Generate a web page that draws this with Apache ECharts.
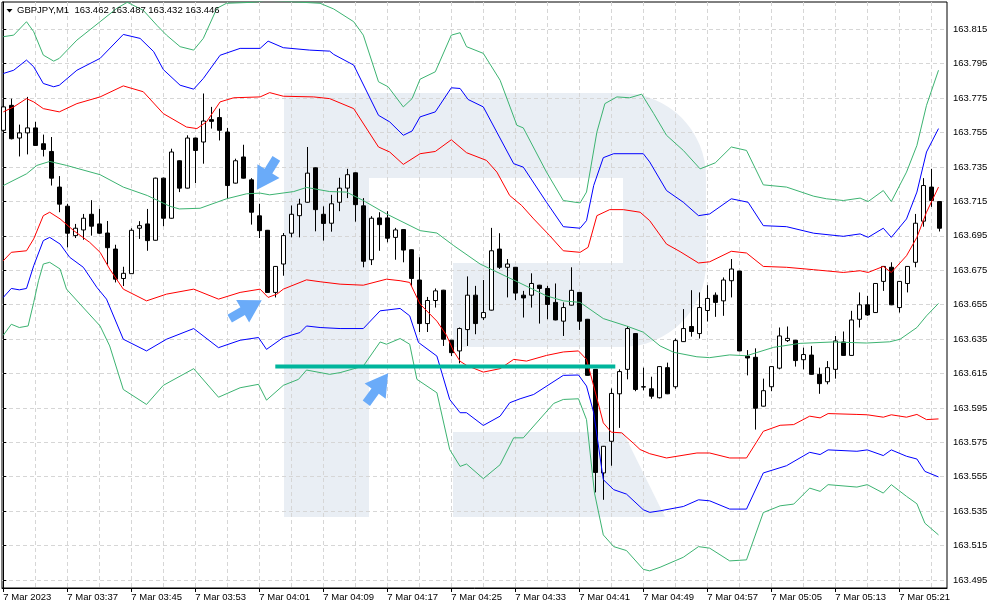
<!DOCTYPE html>
<html>
<head>
<meta charset="utf-8">
<title>GBPJPY,M1</title>
<script src="https://cdn.jsdelivr.net/npm/echarts@6.0.0/dist/echarts.min.js"></script>
<style>
  html, body { margin: 0; padding: 0; background: #fff; }
  #chart { width: 993px; height: 610px; }
</style>
</head>
<body>
<div id="chart"></div>
<script>
// one bar per minute, bar 0 = 7 Mar 03:29
const opens = [
  163.7563, 163.7708, 163.7518, 163.7548, 163.7577, 163.7485, 163.7440, 163.7233, 163.7122, 163.6951,
  163.6984, 163.7075, 163.7019, 163.6966, 163.6873, 163.6702, 163.6730, 163.6994, 163.7019, 163.6924,
  163.7285, 163.7052, 163.7386, 163.7227, 163.7518, 163.7495, 163.7625, 163.7637, 163.7553, 163.7256,
  163.7408, 163.7275, 163.7066, 163.6982, 163.6621, 163.6786, 163.6965, 163.7067, 163.7145, 163.7345,
  163.7075, 163.7023, 163.7145, 163.7227, 163.7316, 163.7124, 163.6811, 163.7054, 163.7054, 163.6941,
  163.6986, 163.6869, 163.6693, 163.6440, 163.6574, 163.6634, 163.6343, 163.6281, 163.6405, 163.6605,
  163.6474, 163.6518, 163.6873, 163.6767, 163.6767, 163.6605, 163.6605, 163.6663, 163.6644, 163.6563,
  163.6454, 163.6547, 163.6621, 163.6465, 163.6174, 163.5572, 163.5756, 163.6032, 163.6174, 163.6382,
  163.6073, 163.6061, 163.6009, 163.6184, 163.6073, 163.6335, 163.6423, 163.6382, 163.6516, 163.6605,
  163.6572, 163.6689, 163.6745, 163.6251, 163.6244, 163.5960, 163.6073, 163.6181, 163.6341, 163.6343,
  163.6230, 163.6257, 163.6145, 163.6102, 163.6174, 163.6333, 163.6255, 163.6465, 163.6549, 163.6504,
  163.6685, 163.6767, 163.6533, 163.6673, 163.6796, 163.7035, 163.7233, 163.7149
]
const highs = [
  163.7728, 163.7747, 163.7596, 163.7757, 163.7612, 163.7538, 163.7524, 163.7297, 163.7136, 163.7019,
  163.7077, 163.7157, 163.7106, 163.7036, 163.6898, 163.6770, 163.6994, 163.7035, 163.7106, 163.7288,
  163.7288, 163.7456, 163.7388, 163.7534, 163.7520, 163.7777, 163.7699, 163.7689, 163.7577, 163.7398,
  163.7479, 163.7285, 163.7136, 163.6984, 163.6774, 163.6966, 163.7126, 163.7165, 163.7466, 163.7347,
  163.7121, 163.7188, 163.7287, 163.7339, 163.7318, 163.7169, 163.7064, 163.7087, 163.7093, 163.6996,
  163.6988, 163.6871, 163.6825, 163.6595, 163.6644, 163.6636, 163.6345, 163.6417, 163.6714, 163.6659,
  163.6693, 163.6996, 163.6965, 163.6815, 163.6769, 163.6630, 163.6732, 163.6665, 163.6659, 163.6673,
  163.6563, 163.6767, 163.6623, 163.6467, 163.6176, 163.5729, 163.6063, 163.6174, 163.6426, 163.6384,
  163.6184, 163.6131, 163.6192, 163.6213, 163.6353, 163.6524, 163.6634, 163.6621, 163.6663, 163.6621,
  163.6708, 163.6815, 163.6747, 163.6286, 163.6296, 163.6120, 163.6192, 163.6417, 163.6423, 163.6345,
  163.6300, 163.6310, 163.6184, 163.6222, 163.6368, 163.6394, 163.6514, 163.6621, 163.6601, 163.6675,
  163.6774, 163.6796, 163.6687, 163.6774, 163.7077, 163.7285, 163.7339, 163.7151
]
const lows = [
  163.7556, 163.7510, 163.7411, 163.7423, 163.7472, 163.7411, 163.7242, 163.7087, 163.6883, 163.6937,
  163.6927, 163.6951, 163.6961, 163.6782, 163.6679, 163.6658, 163.6730, 163.6932, 163.6863, 163.6922,
  163.7006, 163.7050, 163.7204, 163.7225, 163.7256, 163.7369, 163.7573, 163.7504, 163.7165, 163.7254,
  163.7283, 163.7015, 163.6937, 163.6619, 163.6592, 163.6718, 163.6941, 163.6941, 163.7143, 163.6976,
  163.6922, 163.6974, 163.7093, 163.7169, 163.7032, 163.6767, 163.6780, 163.6863, 163.6912, 163.6811,
  163.6796, 163.6659, 163.6391, 163.6391, 163.6533, 163.6310, 163.6251, 163.6209, 163.6310, 163.6378,
  163.6461, 163.6516, 163.6757, 163.6592, 163.6576, 163.6475, 163.6533, 163.6440, 163.6465, 163.6459,
  163.6368, 163.6545, 163.6403, 163.6137, 163.5459, 163.5416, 163.5614, 163.5834, 163.6116, 163.6047,
  163.6052, 163.6003, 163.6005, 163.6030, 163.6061, 163.6333, 163.6364, 163.6353, 163.6452, 163.6479,
  163.6485, 163.6592, 163.6279, 163.6139, 163.5824, 163.5958, 163.6047, 163.6174, 163.6333, 163.6190,
  163.6174, 163.6143, 163.6032, 163.6087, 163.6120, 163.6253, 163.6253, 163.6417, 163.6485, 163.6502,
  163.6630, 163.6547, 163.6504, 163.6621, 163.6767, 163.7003, 163.7118, 163.6975
]
const closes = [
  163.7699, 163.7514, 163.7548, 163.7577, 163.7475, 163.7452, 163.7285, 163.7134, 163.6965, 163.6994,
  163.7052, 163.7006, 163.6965, 163.6881, 163.6698, 163.6732, 163.6982, 163.7009, 163.6922, 163.7285,
  163.7052, 163.7437, 163.7227, 163.7518, 163.7446, 163.7617, 163.7615, 163.7563, 163.7242, 163.7386,
  163.7285, 163.7087, 163.6980, 163.6621, 163.6772, 163.6951, 163.7075, 163.7134, 163.7314, 163.7102,
  163.7022, 163.7136, 163.7227, 163.7305, 163.7131, 163.6802, 163.7052, 163.7015, 163.6936, 163.6984,
  163.6867, 163.6702, 163.6440, 163.6574, 163.6630, 163.6349, 163.6271, 163.6411, 163.6605, 163.6440,
  163.6504, 163.6863, 163.6767, 163.6786, 163.6617, 163.6589, 163.6673, 163.6644, 163.6551, 163.6461,
  163.6533, 163.6633, 163.6454, 163.6139, 163.5575, 163.5727, 163.6034, 163.6161, 163.6411, 163.6057,
  163.6071, 163.6018, 163.6190, 163.6032, 163.6341, 163.6411, 163.6394, 163.6533, 163.6586, 163.6563,
  163.6693, 163.6757, 163.6281, 163.6240, 163.5948, 163.6050, 163.6190, 163.6368, 163.6354, 163.6225,
  163.6260, 163.6145, 163.6091, 163.6184, 163.6339, 163.6255, 163.6461, 163.6549, 163.6490, 163.6673,
  163.6772, 163.6549, 163.6685, 163.6772, 163.7023, 163.7242, 163.7155, 163.6994
]

const tickBars = [0, 8, 16, 24, 32, 40, 48, 56, 64, 72, 80, 88, 96, 104, 112]
const tickLabels = [
  '7 Mar 2023', '7 Mar 03:37', '7 Mar 03:45', '7 Mar 03:53', '7 Mar 04:01', '7 Mar 04:09', '7 Mar 04:17',
  '7 Mar 04:25', '7 Mar 04:33', '7 Mar 04:41', '7 Mar 04:49', '7 Mar 04:57', '7 Mar 05:05', '7 Mar 05:13', '7 Mar 05:21'
]
const priceTicks = [
  163.495, 163.515, 163.535, 163.555, 163.575, 163.595, 163.615, 163.635, 163.655,
  163.675, 163.695, 163.715, 163.735, 163.755, 163.775, 163.795, 163.815
]

// indicator lines: [bar, price]
const maLine = [[0,163.7242],[2.9,163.7310],[4.2,163.7359],[5.8,163.7382],[7.9,163.7359],[12.1,163.7305],[15,163.7233],[18,163.7184],[20.8,163.7122],[22,163.7106],[24.6,163.7110],[27.9,163.7165],[30.4,163.7194],[32.1,163.7198],[33.3,163.7188],[36.3,163.7207],[37.9,163.7231],[40.8,163.7207],[42.9,163.7204],[45,163.7155],[47.9,163.7077],[52.1,163.6980],[54.2,163.6966],[56.3,163.6893],[59.6,163.6786],[63.8,163.6693],[67.9,163.6601],[70,163.6572],[72.1,163.6563],[75,163.6469],[77.9,163.6426],[80,163.6390],[82.1,163.6310],[83.8,163.6273],[86.7,163.6247],[88.3,163.6242],[90.8,163.6258],[92.9,163.6253],[96.3,163.6302],[99.6,163.6325],[103.7,163.6333],[107.9,163.6327],[110.8,163.6334],[112.1,163.6349],[114.2,163.6417],[115.4,163.6485],[116.9,163.6557]]
const upper1 = [[0,163.7670],[1.3,163.7699],[2.9,163.7747],[3.8,163.7728],[5,163.7689],[7,163.7670],[9.2,163.7718],[12.1,163.7757],[15,163.7821],[17.5,163.7787],[20,163.7660],[22.9,163.7582],[24.2,163.7573],[25.4,163.7612],[27.1,163.7728],[28.8,163.7752],[32.1,163.7757],[33.3,163.7782],[35,163.7761],[38.8,163.7757],[40.8,163.7747],[43.8,163.7689],[46.9,163.7466],[48.3,163.7437],[50,163.7365],[52.1,163.7427],[54,163.7440],[56,163.7508],[57.9,163.7433],[60.4,163.7388],[61.7,163.7320],[63.3,163.7184],[64.8,163.7126],[66.3,163.7048],[68.3,163.6951],[70,163.6863],[72.1,163.6854],[73.1,163.6883],[74.2,163.7067],[75.8,163.7102],[77.5,163.7102],[79.6,163.7087],[80.8,163.7038],[82.9,163.6902],[84.6,163.6858],[86.9,163.6792],[88.3,163.6799],[91,163.6860],[92.9,163.6850],[95,163.6772],[97.9,163.6767],[101.3,163.6753],[105,163.6737],[107.1,163.6747],[108.1,163.6737],[110,163.6772],[111,163.6737],[112.9,163.6834],[114.2,163.6941],[115.4,163.7087],[116.9,163.7233]]
const upper2 = [[0,163.7893],[1.3,163.7912],[2.9,163.7971],[3.8,163.7932],[5,163.7835],[6.3,163.7816],[7,163.7825],[9.2,163.7912],[12.1,163.7981],[15,163.8120],[17.1,163.8097],[18.8,163.8020],[20,163.7916],[22.1,163.7825],[23.8,163.7802],[25,163.7864],[27.1,163.7999],[29.6,163.8039],[32.1,163.8039],[33.1,163.8081],[35,163.8043],[38.3,163.8029],[40.8,163.8023],[41.3,163.8004],[43.8,163.7942],[46.9,163.7650],[48.3,163.7612],[50,163.7534],[51.1,163.7559],[52.1,163.7641],[54,163.7670],[56,163.7810],[57.1,163.7806],[58.1,163.7742],[60,163.7699],[63.8,163.7369],[65,163.7349],[67.9,163.7145],[70,163.7003],[72.1,163.6994],[72.9,163.7038],[73.8,163.7242],[75,163.7404],[76.3,163.7427],[80,163.7427],[80.8,163.7379],[82.9,163.7213],[85,163.7145],[86.9,163.7067],[88.3,163.7077],[91,163.7165],[93.1,163.7145],[95,163.7009],[97.9,163.7003],[101.3,163.6965],[105,163.6947],[107.1,163.6961],[108.1,163.6941],[110,163.6994],[111,163.6941],[112.9,163.7048],[114.2,163.7204],[115.4,163.7437],[116.9,163.7573]]
const upper3 = [[0,163.8107],[1.3,163.8116],[2.9,163.8194],[3.8,163.8136],[5,163.8000],[6.3,163.7965],[7,163.7981],[9.2,163.8087],[12.1,163.8194],[14.2,163.8272],[15.5,163.8307],[17.5,163.8260],[19.2,163.8173],[20.4,163.8116],[22.1,163.8049],[23.8,163.8029],[25,163.8097],[26.7,163.8272],[27.9,163.8301],[31.3,163.8307],[32.9,163.8319],[35.8,163.8311],[39.6,163.8301],[41.3,163.8268],[43.8,163.8194],[45,163.8116],[46.9,163.7845],[48.1,163.7816],[50,163.7699],[51.1,163.7747],[52.1,163.7860],[54,163.7903],[56,163.8116],[57.1,163.8130],[57.9,163.8049],[60,163.8010],[62.1,163.7854],[64.2,163.7592],[65,163.7577],[67.9,163.7320],[70,163.7155],[72.1,163.7141],[72.9,163.7204],[74.2,163.7553],[75.2,163.7718],[76.7,163.7757],[78.3,163.7752],[79.8,163.7773],[81.3,163.7660],[82.9,163.7534],[85,163.7446],[87.1,163.7339],[89,163.7374],[91,163.7466],[92.9,163.7446],[95,163.7246],[97.9,163.7233],[101.3,163.7180],[102.9,163.7165],[105,163.7155],[107.1,163.7169],[108.1,163.7149],[110,163.7213],[111,163.7149],[112.9,163.7320],[114.2,163.7475],[115.4,163.7708],[116.9,163.7912]]
const lower1 = [[0,163.6805],[1,163.6854],[2.9,163.6863],[3.8,163.6932],[5,163.7067],[5.8,163.7087],[7.1,163.7048],[8.8,163.6980],[10.8,163.6912],[12.1,163.6854],[13.3,163.6757],[15,163.6640],[17.9,163.6572],[20.4,163.6611],[23.8,163.6640],[26.9,163.6582],[29.6,163.6621],[32.1,163.6640],[33.1,163.6592],[34.2,163.6611],[35,163.6640],[37.9,163.6694],[39.6,163.6683],[42.1,163.6669],[45,163.6663],[47.9,163.6698],[49.6,163.6689],[50.8,163.6679],[52.1,163.6553],[54.2,163.6454],[55.4,163.6372],[56.3,163.6279],[57.1,163.6221],[57.9,163.6197],[60,163.6158],[62.1,163.6178],[63.8,163.6232],[65.4,163.6222],[67.9,163.6255],[70,163.6275],[71.9,163.6281],[72.9,163.6232],[73.8,163.6077],[75,163.5863],[76,163.5809],[77.3,163.5805],[78.8,163.5743],[79.6,163.5708],[80.8,163.5684],[82.9,163.5659],[86.7,163.5688],[88.3,163.5688],[90.8,163.5659],[92.9,163.5659],[95,163.5814],[97.1,163.5849],[98.8,163.5853],[100.8,163.5902],[102.1,163.5892],[103.1,163.5917],[106.7,163.5912],[108,163.5910],[110,163.5896],[111,163.5910],[112.9,163.5896],[114.2,163.5912],[115.4,163.5882],[116.9,163.5886]]
const lower2 = [[0,163.6592],[1,163.6644],[2,163.6636],[2.9,163.6644],[3.8,163.6776],[5,163.6922],[5.8,163.6941],[7.1,163.6902],[8.3,163.6825],[10,163.6767],[11.7,163.6650],[12.9,163.6582],[15,163.6349],[17.9,163.6281],[20.4,163.6349],[23.8,163.6411],[26.9,163.6300],[29.6,163.6343],[31.9,163.6359],[32.9,163.6290],[35,163.6359],[37.1,163.6388],[37.9,163.6426],[39.6,163.6417],[42.1,163.6411],[45,163.6411],[47.1,163.6514],[49.6,163.6528],[50.8,163.6485],[51.9,163.6330],[54.2,163.6251],[55.8,163.5999],[57.1,163.5922],[57.9,163.5922],[60,163.5848],[62.1,163.5902],[63.3,163.5980],[64.6,163.6003],[66.3,163.6028],[70,163.6139],[71.9,163.6141],[72.9,163.6077],[73.8,163.5922],[75,163.5533],[76.3,163.5475],[77.9,163.5449],[80,163.5358],[80.8,163.5343],[82.1,163.5352],[85,163.5377],[86.9,163.5416],[88.3,163.5410],[90.8,163.5362],[92.9,163.5362],[95,163.5572],[97.9,163.5614],[100.8,163.5692],[102.1,163.5679],[103.1,163.5706],[106.7,163.5698],[108,163.5706],[110,163.5673],[111,163.5706],[112.9,163.5669],[114.2,163.5653],[115.2,163.5581],[116.9,163.5549]]
const lower3 = [[0,163.6372],[1,163.6436],[2,163.6417],[3.1,163.6426],[3.8,163.6563],[4.4,163.6689],[5,163.6786],[5.8,163.6796],[7.1,163.6757],[7.9,163.6640],[9.6,163.6553],[12.1,163.6426],[13.3,163.6310],[15,163.6057],[17.9,163.5970],[20,163.6081],[23.8,163.6178],[26.9,163.6012],[29.6,163.6067],[31.9,163.6087],[32.9,163.5995],[35,163.6081],[36.9,163.6116],[37.9,163.6170],[40.8,163.6145],[42.1,163.6155],[45,163.6193],[47.1,163.6333],[47.9,163.6320],[49.6,163.6353],[50.8,163.6320],[51.7,163.6116],[54.2,163.6038],[55.8,163.5708],[57.1,163.5610],[57.9,163.5624],[60,163.5539],[62.1,163.5620],[63.8,163.5776],[65,163.5776],[68.8,163.5976],[70,163.5999],[71.9,163.6003],[72.9,163.5882],[73.9,163.5455],[75,163.5212],[76.3,163.5144],[77.9,163.5121],[80,163.5012],[80.8,163.5003],[82.1,163.5024],[85,163.5082],[86.9,163.5144],[88.3,163.5135],[90.8,163.5061],[92.9,163.5067],[95,163.5342],[97.1,163.5381],[98.8,163.5391],[100.8,163.5484],[102.1,163.5465],[103.1,163.5504],[106.7,163.5490],[108,163.5504],[110,163.5455],[111,163.5504],[112.9,163.5436],[114.2,163.5393],[115.2,163.5280],[116.9,163.5212]]

// teal support level and the three blue arrows ([bar, price] of tip, direction in degrees)
const levelLine = [[34, 163.6191], [76.5, 163.6191]]
const arrowTips = [[31.7, 163.7217], [32.3, 163.6576], [48.1, 163.6151]]
const arrowAngles = [121.7, -30, -54]

const FONT = 'Tahoma, "Liberation Sans", Arial, sans-serif'
const GREEN = '#3cb371'

const gridBars = []
for (let b = 0; b <= 116; b += 4) gridBars.push(b)
const labelByBar = {}
tickBars.forEach((b, k) => { labelByBar[b] = tickLabels[k] })

const candles = opens.map((o, i) => [i, o, closes[i], lows[i], highs[i]])

const xMin = -0.1625
const xMax = 117.9625

function band(name, data, color) {
  return {
    name: name,
    type: 'line',
    data: data,
    symbol: 'none',
    smooth: false,
    z: 3,
    lineStyle: { color: color, width: 1 },
    emphasis: { disabled: true }
  }
}

const myChart = echarts.init(document.getElementById('chart'), null, { renderer: 'canvas' })

const option = {
  animation: false,
  backgroundColor: '#fff',
  grid: {
    left: 2,
    right: 46,
    top: 2,
    bottom: 22,
    show: true,
    borderColor: '#000',
    borderWidth: 1,
    backgroundColor: 'transparent',
    outerBoundsMode: 'none'
  },
  xAxis: [
    {
      type: 'value',
      min: xMin,
      max: xMax,
      position: 'bottom',
      axisLine: { show: true, lineStyle: { color: '#000', width: 1 } },
      axisTick: { show: true, length: 4, customValues: tickBars, lineStyle: { color: '#000' } },
      axisLabel: {
        customValues: tickBars,
        align: 'left',
        margin: 4,
        color: '#000',
        fontSize: 9.5,
        fontFamily: FONT,
        formatter: (v) => labelByBar[Math.round(v)] || ''
      },
      splitLine: { show: false }
    },
    {
      // only used for the vertical grid every 4 bars
      type: 'value',
      min: xMin,
      max: xMax,
      position: 'top',
      axisLine: { show: false },
      axisTick: { show: false, customValues: gridBars },
      axisLabel: { show: false, customValues: gridBars },
      splitLine: { show: true, lineStyle: { color: '#d6d6d6', type: [4, 3], width: 1 } }
    }
  ],
  yAxis: {
    type: 'value',
    position: 'right',
    min: 163.49035,
    max: 163.83085,
    axisLine: { show: true, lineStyle: { color: '#000', width: 1 } },
    axisTick: { show: true, length: 3, customValues: priceTicks, lineStyle: { color: '#000' } },
    axisLabel: {
      customValues: priceTicks,
      margin: 6,
      color: '#000',
      fontSize: 9.5,
      fontFamily: FONT,
      formatter: (v) => v.toFixed(3)
    },
    splitLine: { show: true, lineStyle: { color: '#d6d6d6', type: [4, 3], width: 1 } }
  },
  series: [
    {
      name: 'GBPJPY',
      type: 'candlestick',
      data: candles,
      barWidth: 4,
      z: 2,
      itemStyle: {
        color: '#fff',
        color0: '#000',
        borderColor: '#000',
        borderColor0: '#000',
        borderColorDoji: '#000',
        borderWidth: 1
      },
      emphasis: { disabled: true }
    },
    band('ma', maLine, GREEN),
    band('up1', upper1, '#ff0000'),
    band('up2', upper2, '#0000ff'),
    band('up3', upper3, GREEN),
    band('dn1', lower1, '#ff0000'),
    band('dn2', lower2, '#0000ff'),
    band('dn3', lower3, GREEN),
    {
      name: 'level',
      type: 'line',
      data: levelLine,
      symbol: 'none',
      z: 5,
      lineStyle: { color: '#00b59c', width: 4 },
      emphasis: { disabled: true }
    }
  ]
}

myChart.setOption(option)

// background logo and annotations
function arc(cx, cy, r, a0, a1, n) {
  const pts = []
  for (let k = 0; k <= n; k++) {
    const a = (a0 + (a1 - a0) * k / n) * Math.PI / 180
    pts.push([cx + r * Math.cos(a), cy + r * Math.sin(a)])
  }
  return pts
}

function arrowShape(tip, deg) {
  const a = deg * Math.PI / 180
  const c = Math.cos(a)
  const s = Math.sin(a)
  const local = [[0, 0], [-22, -13], [-22, -4.5], [-37, -4.5], [-37, 4.5], [-22, 4.5], [-22, 13]]
  return local.map(([x, y]) => [tip[0] + x * c - y * s, tip[1] + x * s + y * c])
}

const LOGO = '#e9eef4'
const bowl = [[369, 93], [622, 93]]
  .concat(arc(622, 177, 84, -90, 0, 16))
  .concat(arc(622, 263, 84, 0, 90, 16))
  .concat([[453, 347], [453, 263], [623, 263], [623, 178], [369, 178]])

const elements = [
  { type: 'rect', z: -1, silent: true, shape: { x: 284, y: 93, width: 85, height: 424 }, style: { fill: LOGO } },
  { type: 'polygon', z: -1, silent: true, shape: { points: bowl }, style: { fill: LOGO } },
  { type: 'polygon', z: -1, silent: true, shape: { points: [[453, 432], [623, 432], [665, 517], [453, 517]] }, style: { fill: LOGO } },
  { type: 'polygon', z: 10, silent: true, shape: { points: [[6.5, 9], [12.5, 9], [9.5, 12.5]] }, style: { fill: '#000' } },
  {
    type: 'text', z: 10, silent: true, x: 17, y: 5,
    style: { text: 'GBPJPY,M1  163.462 163.487 163.432 163.446', fill: '#000', fontSize: 9.5, fontFamily: FONT }
  }
]

arrowTips.forEach((t, k) => {
  const p = myChart.convertToPixel({ xAxisIndex: 0, yAxisIndex: 0 }, t)
  elements.push({
    type: 'polygon', z: 20, silent: true,
    shape: { points: arrowShape(p, arrowAngles[k]) },
    style: { fill: '#6aabf9' }
  })
})

myChart.setOption({ graphic: { elements: elements } })
</script>
</body>
</html>
